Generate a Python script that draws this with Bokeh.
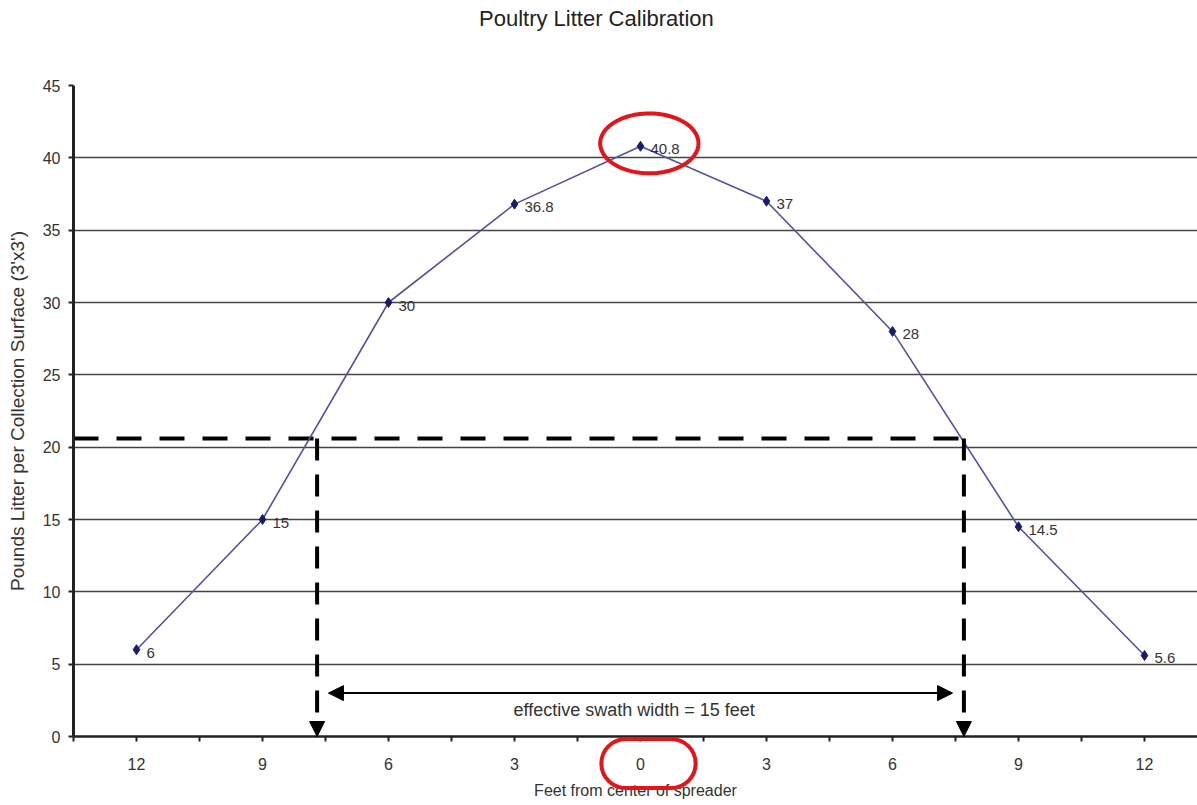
import numpy as np
from bokeh.plotting import figure
from bokeh.models import Range1d, FixedTicker, Label, Arrow, NormalHead, PolyAnnotation
from bokeh.core.properties import value
from bokeh.embed import file_html
from bokeh.resources import INLINE

# ---------------- data ----------------
chart_title = "Poultry Litter Calibration"
x_axis_label = "Feet from center of spreader"
y_axis_label = "Pounds Litter per Collection Surface (3'x3')"
x_pos = [-12, -9, -6, -3, 0, 3, 6, 9, 12]
x_labels = ["12", "9", "6", "3", "0", "3", "6", "9", "12"]
pounds = [6, 15, 30, 36.8, 40.8, 37, 28, 14.5, 5.6]
point_labels = ["6", "15", "30", "36.8", "40.8", "37", "28", "14.5", "5.6"]
y_ticks = [0, 5, 10, 15, 20, 25, 30, 35, 40, 45]
swath_level = 20.6
swath_edges = [-7.7, 7.7]
swath_text = "effective swath width = 15 feet"

FONT = "Liberation Sans"
TXT = "#333333"
RED = "#e3151b"

# x ticks: at every category and every boundary between categories
half = (x_pos[1] - x_pos[0]) / 2.0
x_ticks = sorted(set([x - half for x in x_pos] + x_pos + [x_pos[-1] + half]))
overrides = {float(t): "" for t in x_ticks}
for xp, lab in zip(x_pos, x_labels):
    overrides[float(xp)] = lab

x_start = x_pos[0] - half
W, H = 1197, 805
LEFT, TOP, BOTTOM = 73, 85, 69
px_per_unit = 42.0
x_end = x_start + (W - LEFT) / px_per_unit

p = figure(width=W, height=H, output_backend="svg", toolbar_location=None,
           x_range=Range1d(x_start, x_end), y_range=Range1d(0, 45),
           min_border_left=LEFT, min_border_right=0, min_border_top=TOP,
           min_border_bottom=BOTTOM, background_fill_color="white",
           border_fill_color="white")
p.outline_line_color = None

# grid
p.xgrid.grid_line_color = None
p.ygrid.ticker = FixedTicker(ticks=y_ticks)
p.ygrid.grid_line_color = "#444444"
p.ygrid.grid_line_width = 1.5

# y axis
p.yaxis.ticker = FixedTicker(ticks=y_ticks)
p.yaxis.axis_line_color = "#222222"
p.yaxis.axis_line_width = 3
p.yaxis.major_tick_in = 0
p.yaxis.major_tick_out = 5
p.yaxis.major_tick_line_width = 2
p.yaxis.major_tick_line_color = "#222222"
p.yaxis.minor_tick_line_color = None
p.yaxis.major_label_text_font = FONT
p.yaxis.major_label_text_font_size = "16px"
p.yaxis.major_label_text_color = TXT
p.yaxis.major_label_standoff = 8
p.yaxis.axis_label = y_axis_label
p.yaxis.axis_label_text_font = FONT
p.yaxis.axis_label_text_font_size = "19px"
p.yaxis.axis_label_text_font_style = "normal"
p.yaxis.axis_label_text_color = TXT
p.yaxis.axis_label_standoff = 12

# x axis
p.xaxis.ticker = FixedTicker(ticks=x_ticks)
p.xaxis.major_label_overrides = overrides
p.xaxis.axis_line_color = "#222222"
p.xaxis.axis_line_width = 2.5
p.xaxis.major_tick_in = 0
p.xaxis.major_tick_out = 5
p.xaxis.major_tick_line_width = 2
p.xaxis.major_tick_line_color = "#222222"
p.xaxis.minor_tick_line_color = None
p.xaxis.major_label_text_font = FONT
p.xaxis.major_label_text_font_size = "16px"
p.xaxis.major_label_text_color = TXT
p.xaxis.major_label_standoff = 16
p.xaxis.axis_label = x_axis_label
p.xaxis.axis_label_text_font = FONT
p.xaxis.axis_label_text_font_size = "16px"
p.xaxis.axis_label_text_font_style = "normal"
p.xaxis.axis_label_text_color = TXT
p.xaxis.axis_label_standoff = 9

# swath lines
p.line(x=[x_start, swath_edges[1]], y=[swath_level, swath_level],
       line_color="black", line_width=4, line_dash="25 18")
for e in swath_edges:
    p.add_layout(Arrow(x_start=e, y_start=swath_level, x_end=e, y_end=0,
                       line_color="black", line_width=4, line_dash="22 14",
                       end=NormalHead(size=15, fill_color="black",
                                      line_color="black", line_width=1)))
arrow_y = 3
inset = 0.27
p.add_layout(Arrow(x_start=swath_edges[0] + inset, y_start=arrow_y,
                   x_end=swath_edges[1] - inset, y_end=arrow_y,
                   line_color="black", line_width=2,
                   start=NormalHead(size=15, fill_color="black", line_color="black", line_width=1),
                   end=NormalHead(size=15, fill_color="black", line_color="black", line_width=1)))
p.add_layout(Label(x=np.mean(swath_edges) - 0.15, y=1.8, text=swath_text,
                   text_font=FONT, text_font_size="18px", text_color=TXT,
                   text_align="center", text_baseline="middle"))

# data
p.line(x=x_pos, y=pounds, line_color="#5252a3", line_width=1.6)
p.scatter(x=x_pos, y=pounds, marker="diamond", size=10,
          fill_color="#1b1b6e", line_color="#1b1b6e")
p.text(x=x_pos, y=pounds, text=point_labels, x_offset=10, y_offset=3,
       text_font=value(FONT), text_font_size="15px", text_color=TXT,
       text_align="left", text_baseline="middle")

# title (placed in the top panel so it is not clipped to the frame)
p.add_layout(Label(x=-1.05, y=49.63, text=chart_title, text_font=FONT,
                   text_font_size="22px", text_color="#222222",
                   text_align="center", text_baseline="middle"), "above")

# red highlight around the peak point
t = np.linspace(0, 2 * np.pi, 90)
peak_i = int(np.argmax(pounds))
p.add_layout(PolyAnnotation(xs=list(x_pos[peak_i] + 0.21 + 1.17 * np.cos(t)),
                            ys=list(pounds[peak_i] + 0.2 + 2.07 * np.sin(t)),
                            fill_color=None, fill_alpha=0, line_alpha=1,
                            line_color=RED, line_width=4))
# red highlight around the "0" tick label (outside the frame -> side panel)
p.add_layout(Label(x=x_pos[peak_i] + 0.19, y=-1.87, text=" ", text_font_size="1px",
                   text_align="center", text_baseline="middle",
                   padding=(47, 47, 24, 24), border_radius=25,
                   border_line_color=RED, border_line_width=4,
                   background_fill_color=None), "above")

open("out.html", "w").write(file_html(p, INLINE))
